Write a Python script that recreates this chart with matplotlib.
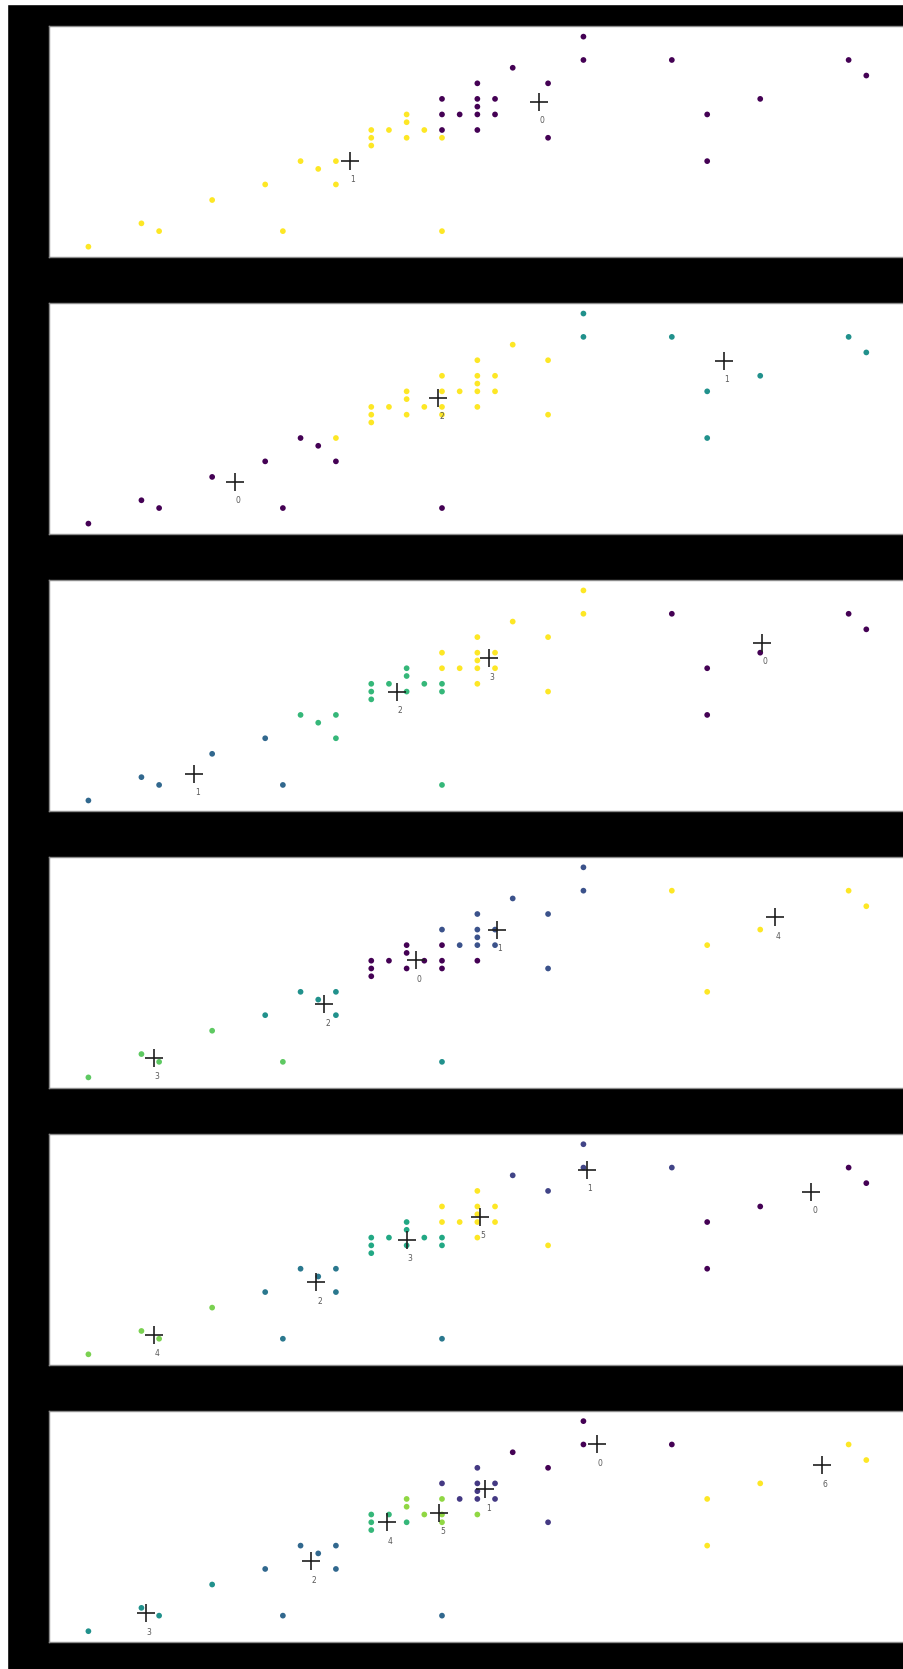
import matplotlib
matplotlib.use("Agg")
import matplotlib.pyplot as plt
from matplotlib.patches import Rectangle

# points (same in every panel)
x_vals = [0, 3, 4, 7, 10, 11, 12, 13, 14, 14,
          16, 16, 16, 17, 18, 18, 18, 19, 20, 20,
          20, 20, 20, 21, 22, 22, 22, 22, 22, 23,
          23, 24, 26, 26, 28, 28, 33, 35, 35, 38,
          43, 44]
y_vals = [0, 3, 2, 6, 8, 2, 11, 10, 11, 8,
          15, 14, 13, 15, 17, 16, 14, 15, 14, 2,
          19, 17, 15, 17, 21, 19, 18, 17, 15, 19,
          17, 23, 21, 14, 27, 24, 24, 17, 11, 19,
          24, 22]

# cluster labels, k = 2 .. 7
labels_k2 = [1] * 20 + [0] * 22
labels_k3 = [0, 0, 0, 0, 0, 0, 0, 0, 2, 0,
             2, 2, 2, 2, 2, 2, 2, 2, 2, 0,
             2, 2, 2, 2, 2, 2, 2, 2, 2, 2,
             2, 2, 2, 2, 1, 1, 1, 1, 1, 1,
             1, 1]
labels_k4 = [1, 1, 1, 1, 1, 1, 2, 2, 2, 2,
             2, 2, 2, 2, 2, 2, 2, 2, 2, 2,
             3, 3, 2, 3, 3, 3, 3, 3, 3, 3,
             3, 3, 3, 3, 3, 3, 0, 0, 0, 0,
             0, 0]
labels_k5 = [3, 3, 3, 3, 2, 3, 2, 2, 2, 2,
             0, 0, 0, 0, 0, 0, 0, 0, 0, 2,
             1, 0, 0, 1, 1, 1, 1, 1, 0, 1,
             1, 1, 1, 1, 1, 1, 4, 4, 4, 4,
             4, 4]
labels_k6 = [4, 4, 4, 4, 2, 2, 2, 2, 2, 2,
             3, 3, 3, 3, 3, 3, 3, 3, 3, 2,
             5, 5, 3, 5, 5, 5, 5, 5, 5, 5,
             5, 1, 1, 5, 1, 1, 1, 0, 0, 0,
             0, 0]
labels_k7 = [3, 3, 3, 3, 2, 2, 2, 2, 2, 2,
             4, 4, 4, 4, 5, 5, 4, 5, 5, 2,
             1, 5, 5, 1, 1, 1, 1, 1, 5, 1,
             1, 0, 0, 1, 0, 0, 0, 6, 6, 6,
             6, 6]

# cluster centres (x, y), index = cluster number
centers_k2 = [(25.5, 18.6), (14.8, 11.05)]
centers_k3 = [(8.3, 5.4), (35.95, 20.9), (19.8, 16.2)]
centers_k4 = [(38.1, 20.3), (6.0, 3.45), (17.45, 13.95), (22.65, 18.3)]
centers_k5 = [(18.55, 15.05), (23.1, 19.0), (13.35, 9.4), (3.7, 2.5), (38.85, 20.6)]
centers_k6 = [(40.9, 20.9), (28.2, 23.75), (12.9, 9.25), (18.0, 14.7), (3.7, 2.5), (22.15, 17.65)]
centers_k7 = [(28.75, 24.0), (22.45, 18.25), (12.6, 9.0), (3.25, 2.3), (16.9, 14.0),
              (19.85, 15.2), (41.5, 21.35)]

all_labels = [labels_k2, labels_k3, labels_k4, labels_k5, labels_k6, labels_k7]
all_centers = [centers_k2, centers_k3, centers_k4, centers_k5, centers_k6, centers_k7]

W, H = 904, 1669


def drawPanel(ax, labels, centers):
    ax.scatter(x_vals, y_vals, c=labels, cmap="viridis", s=17, linewidths=0)
    for i, (cx, cy) in enumerate(centers):
        ax.plot(cx, cy, marker="+", color="0.12", markersize=13, mew=1.2)
        ax.annotate(str(i), (cx, cy), xytext=(3, -19), textcoords="offset pixels",
                    ha="center", va="center", fontsize=5.5, color="0.35")
    ax.set_xlim(-2.2, 46.2)
    ax.set_ylim(-1.35, 28.35)
    ax.set_xticks([])
    ax.set_yticks([])
    ax.set_facecolor("white")
    for sp in ax.spines.values():
        sp.set_color("0.55")
        sp.set_linewidth(1)


if __name__ == "__main__":
    fig = plt.figure(figsize=(W / 100, H / 100), dpi=100, facecolor="black")
    # light strips on the left and top edge
    fig.patches.append(Rectangle((0, 0), 7 / W, 1, transform=fig.transFigure,
                                 color="white", zorder=-1))
    fig.patches.append(Rectangle((0, 1 - 4 / H), 1, 4 / H, transform=fig.transFigure,
                                 color="white", zorder=-1))

    unit = 7.78
    for i in range(6):
        v0 = 246.7 + 276.9 * i
        top = v0 - 28.35 * unit
        bottom = v0 + 1.35 * unit
        ax = fig.add_axes([49.5 / W, 1 - bottom / H, 855.7 / W, (bottom - top) / H])
        drawPanel(ax, all_labels[i], all_centers[i])

    fig.savefig("out.png", dpi=100, facecolor=fig.get_facecolor())
